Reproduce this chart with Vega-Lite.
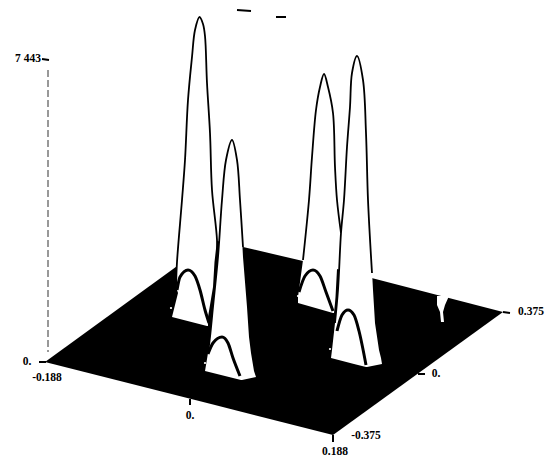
{
"$schema":"https://vega.github.io/schema/vega-lite/v6.json",
"width":546,"height":465,"padding":0,
"autosize":{"type":"fit","contains":"padding"},
"background":"white",
"config":{"view":{"stroke":null}},
"datasets":{
"base":[{"x":45,"y":362,"y2":362},{"x":213,"y":240,"y2":404.6},{"x":333,"y":268,"y2":435},{"x":503,"y":312,"y2":312}],
"fills":[
{"p":"1","y":17,"l":199,"r":200},{"p":"1","y":21,"l":197,"r":203},{"p":"1","y":30,"l":195,"r":205},{"p":"1","y":57,"l":192,"r":206},{"p":"1","y":100,"l":188,"r":208},{"p":"1","y":160,"l":185,"r":211},{"p":"1","y":200,"l":182,"r":213},{"p":"1","y":240,"l":179,"r":217},{"p":"1","y":262,"l":177,"r":214.5},{"p":"1","y":287,"l":176,"r":213},{"p":"1","y":293,"l":178,"r":212},{"p":"1","y":317,"l":172,"r":208},{"p":"1","y":326,"l":207,"r":208},
{"p":"3","y":74,"l":323,"r":325},{"p":"3","y":78,"l":321.5,"r":326.5},{"p":"3","y":87,"l":320,"r":328},{"p":"3","y":110,"l":316,"r":333},{"p":"3","y":157,"l":312,"r":335},{"p":"3","y":200,"l":309,"r":337},{"p":"3","y":233,"l":306,"r":341},{"p":"3","y":260,"l":303,"r":337.5},{"p":"3","y":297,"l":298,"r":335.5},{"p":"3","y":303,"l":298,"r":335},{"p":"3","y":313,"l":333,"r":334},
{"p":"2","y":140,"l":231,"r":233},{"p":"2","y":144,"l":229,"r":235},{"p":"2","y":160,"l":226,"r":237},{"p":"2","y":200,"l":222,"r":240},{"p":"2","y":257,"l":218,"r":243},{"p":"2","y":307,"l":213,"r":247},{"p":"2","y":337,"l":210,"r":249},{"p":"2","y":353,"l":208,"r":251},{"p":"2","y":371,"l":205,"r":254},{"p":"2","y":377,"l":229,"r":256},{"p":"2","y":380,"l":241,"r":242},
{"p":"4","y":56,"l":356,"r":358},{"p":"4","y":60,"l":354.5,"r":359.5},{"p":"4","y":73,"l":352,"r":362},{"p":"4","y":107,"l":350,"r":365},{"p":"4","y":147,"l":347,"r":367},{"p":"4","y":200,"l":344,"r":368},{"p":"4","y":233,"l":341,"r":370},{"p":"4","y":290,"l":338,"r":373},{"p":"4","y":323,"l":335,"r":375},{"p":"4","y":350,"l":332,"r":379},{"p":"4","y":358,"l":331,"r":381},{"p":"4","y":364,"l":354,"r":382},{"p":"4","y":367,"l":366,"r":367},
{"p":"n","y":296,"l":437,"r":449},{"p":"n","y":305,"l":437,"r":445},{"p":"n","y":312,"l":440,"r":443},{"p":"n","y":322,"l":441,"r":444}
],
"lines":[
{"c":"p1","o":1,"x":176,"y":287},{"c":"p1","o":2,"x":177,"y":262},{"c":"p1","o":3,"x":182,"y":200},{"c":"p1","o":4,"x":185,"y":160},{"c":"p1","o":5,"x":188,"y":100},{"c":"p1","o":6,"x":192,"y":57},{"c":"p1","o":7,"x":195,"y":30},{"c":"p1","o":8,"x":199.5,"y":17},{"c":"p1","o":9,"x":203,"y":24},{"c":"p1","o":10,"x":205,"y":36},{"c":"p1","o":11,"x":207,"y":83},{"c":"p1","o":12,"x":210,"y":133},{"c":"p1","o":13,"x":212,"y":190},{"c":"p1","o":14,"x":217,"y":240},{"c":"p1","o":15,"x":217,"y":270},
{"c":"p1a","o":1,"x":177,"y":290},{"c":"p1a","o":2,"x":180,"y":277},{"c":"p1a","o":3,"x":188,"y":270},{"c":"p1a","o":4,"x":195,"y":276},{"c":"p1a","o":5,"x":200,"y":290},{"c":"p1a","o":6,"x":205,"y":310},{"c":"p1a","o":7,"x":209,"y":323},
{"c":"p3","o":1,"x":303,"y":260},{"c":"p3","o":2,"x":309,"y":200},{"c":"p3","o":3,"x":312,"y":157},{"c":"p3","o":4,"x":316,"y":110},{"c":"p3","o":5,"x":320,"y":87},{"c":"p3","o":6,"x":324,"y":74},{"c":"p3","o":7,"x":328,"y":87},{"c":"p3","o":8,"x":333,"y":113},{"c":"p3","o":9,"x":335,"y":167},{"c":"p3","o":10,"x":337,"y":200},{"c":"p3","o":11,"x":341,"y":233},
{"c":"p3a","o":1,"x":299,"y":292},{"c":"p3a","o":2,"x":305,"y":276},{"c":"p3a","o":3,"x":313,"y":270},{"c":"p3a","o":4,"x":320,"y":276},{"c":"p3a","o":5,"x":326,"y":292},{"c":"p3a","o":6,"x":333,"y":311},
{"c":"p2","o":1,"x":208,"y":353},{"c":"p2","o":2,"x":210,"y":337},{"c":"p2","o":3,"x":213,"y":307},{"c":"p2","o":4,"x":218,"y":257},{"c":"p2","o":5,"x":222,"y":200},{"c":"p2","o":6,"x":226,"y":160},{"c":"p2","o":7,"x":232,"y":140},{"c":"p2","o":8,"x":237,"y":160},{"c":"p2","o":9,"x":240,"y":200},{"c":"p2","o":10,"x":243,"y":247},
{"c":"p2a","o":1,"x":208,"y":354},{"c":"p2a","o":2,"x":213,"y":343},{"c":"p2a","o":3,"x":222,"y":337},{"c":"p2a","o":4,"x":228,"y":343},{"c":"p2a","o":5,"x":233,"y":358},{"c":"p2a","o":6,"x":240,"y":376},
{"c":"p4","o":1,"x":335,"y":323},{"c":"p4","o":2,"x":338,"y":290},{"c":"p4","o":3,"x":341,"y":233},{"c":"p4","o":4,"x":344,"y":200},{"c":"p4","o":5,"x":347,"y":147},{"c":"p4","o":6,"x":350,"y":107},{"c":"p4","o":7,"x":352,"y":73},{"c":"p4","o":8,"x":357,"y":56},{"c":"p4","o":9,"x":363,"y":80},{"c":"p4","o":10,"x":366,"y":133},{"c":"p4","o":11,"x":368,"y":200},{"c":"p4","o":12,"x":372,"y":273},
{"c":"p4a","o":1,"x":337,"y":331},{"c":"p4a","o":2,"x":342,"y":315},{"c":"p4a","o":3,"x":348,"y":310},{"c":"p4a","o":4,"x":354,"y":315},{"c":"p4a","o":5,"x":359,"y":331},{"c":"p4a","o":6,"x":366,"y":365}
],
"thin":[
{"c":"t0","o":1,"x":42,"y":59},{"c":"t0","o":2,"x":49,"y":60},{"c":"t1","o":1,"x":39,"y":362},{"c":"t1","o":2,"x":46,"y":362},{"c":"t2","o":1,"x":190,"y":399},{"c":"t2","o":2,"x":190,"y":405},{"c":"t3","o":1,"x":418,"y":374},{"c":"t3","o":2,"x":425,"y":374},{"c":"t4","o":1,"x":503,"y":312},{"c":"t4","o":2,"x":510,"y":313},{"c":"t5","o":1,"x":333,"y":435},{"c":"t5","o":2,"x":333,"y":442},
{"c":"b1","o":1,"x":237,"y":10},{"c":"b1","o":2,"x":251,"y":11},{"c":"b2","o":1,"x":276,"y":17},{"c":"b2","o":2,"x":286,"y":17}
],
"zaxis":[{"x":48,"y":70},{"x":48,"y":352}],
"specks":[{"x":171,"y":308},{"x":205,"y":363},{"x":330,"y":349},{"x":298,"y":296},{"x":370,"y":363}],
"labels":[
{"x":28,"y":59,"t":"7 443"},{"x":27,"y":362,"t":"0."},{"x":47,"y":378,"t":"-0.188"},{"x":190,"y":416,"t":"0."},{"x":436,"y":374,"t":"0."},{"x":531,"y":312,"t":"0.375"},{"x":366,"y":436,"t":"-0.375"},{"x":335,"y":452,"t":"0.188"}
]
},
"layer":[
{"data":{"name":"base"},"mark":{"type":"area","color":"black","orient":"vertical"},"encoding":{"x":{"field":"x","type":"quantitative","scale":{"domain":[0,546],"nice":false,"zero":false},"axis":null},"y":{"field":"y","type":"quantitative","scale":{"domain":[465,0],"nice":false,"zero":false},"axis":null},"y2":{"field":"y2"}}},
{"data":{"name":"fills"},"mark":{"type":"area","fill":"white","opacity":1,"orient":"horizontal"},"transform":[{"filter":"datum.p=='n'||datum.p=='1'"}],"encoding":{"y":{"field":"y","type":"quantitative","scale":{"domain":[465,0],"nice":false,"zero":false},"axis":null},"x":{"field":"l","type":"quantitative","stack":false,"scale":{"domain":[0,546],"nice":false,"zero":false},"axis":null},"x2":{"field":"r"},"detail":{"field":"p"}}},
{"data":{"name":"fills"},"mark":{"type":"area","fill":"white","opacity":1,"orient":"horizontal"},"transform":[{"filter":"datum.p=='3'"}],"encoding":{"y":{"field":"y","type":"quantitative","scale":{"domain":[465,0],"nice":false,"zero":false},"axis":null},"x":{"field":"l","type":"quantitative","stack":false,"scale":{"domain":[0,546],"nice":false,"zero":false},"axis":null},"x2":{"field":"r"}}},
{"data":{"name":"lines"},"mark":{"type":"line","color":"black","strokeWidth":1.8,"interpolate":"catmull-rom"},"transform":[{"filter":"datum.c=='p1'||datum.c=='p3'"}],"encoding":{"x":{"field":"x","type":"quantitative","scale":{"domain":[0,546],"nice":false,"zero":false},"axis":null},"y":{"field":"y","type":"quantitative","scale":{"domain":[465,0],"nice":false,"zero":false},"axis":null},"detail":{"field":"c"},"order":{"field":"o","type":"quantitative"}}},
{"data":{"name":"lines"},"mark":{"type":"line","color":"black","strokeWidth":3,"interpolate":"monotone"},"transform":[{"filter":"datum.c=='p1a'||datum.c=='p3a'"}],"encoding":{"x":{"field":"x","type":"quantitative","scale":{"domain":[0,546],"nice":false,"zero":false},"axis":null},"y":{"field":"y","type":"quantitative","scale":{"domain":[465,0],"nice":false,"zero":false},"axis":null},"detail":{"field":"c"},"order":{"field":"o","type":"quantitative"}}},
{"data":{"name":"fills"},"mark":{"type":"area","fill":"white","opacity":1,"orient":"horizontal"},"transform":[{"filter":"datum.p=='2'||datum.p=='4'"}],"encoding":{"y":{"field":"y","type":"quantitative","scale":{"domain":[465,0],"nice":false,"zero":false},"axis":null},"x":{"field":"l","type":"quantitative","stack":false,"scale":{"domain":[0,546],"nice":false,"zero":false},"axis":null},"x2":{"field":"r"},"detail":{"field":"p"}}},
{"data":{"name":"lines"},"mark":{"type":"line","color":"black","strokeWidth":1.8,"interpolate":"catmull-rom"},"transform":[{"filter":"datum.c=='p2'||datum.c=='p4'"}],"encoding":{"x":{"field":"x","type":"quantitative","scale":{"domain":[0,546],"nice":false,"zero":false},"axis":null},"y":{"field":"y","type":"quantitative","scale":{"domain":[465,0],"nice":false,"zero":false},"axis":null},"detail":{"field":"c"},"order":{"field":"o","type":"quantitative"}}},
{"data":{"name":"lines"},"mark":{"type":"line","color":"black","strokeWidth":3,"interpolate":"monotone"},"transform":[{"filter":"datum.c=='p2a'||datum.c=='p4a'"}],"encoding":{"x":{"field":"x","type":"quantitative","scale":{"domain":[0,546],"nice":false,"zero":false},"axis":null},"y":{"field":"y","type":"quantitative","scale":{"domain":[465,0],"nice":false,"zero":false},"axis":null},"detail":{"field":"c"},"order":{"field":"o","type":"quantitative"}}},
{"data":{"name":"thin"},"mark":{"type":"line","color":"black","strokeWidth":2},"encoding":{"x":{"field":"x","type":"quantitative","scale":{"domain":[0,546],"nice":false,"zero":false},"axis":null},"y":{"field":"y","type":"quantitative","scale":{"domain":[465,0],"nice":false,"zero":false},"axis":null},"detail":{"field":"c"},"order":{"field":"o","type":"quantitative"}}},
{"data":{"name":"specks"},"mark":{"type":"point","filled":true,"color":"white","opacity":1,"size":5},"encoding":{"x":{"field":"x","type":"quantitative","scale":{"domain":[0,546],"nice":false,"zero":false},"axis":null},"y":{"field":"y","type":"quantitative","scale":{"domain":[465,0],"nice":false,"zero":false},"axis":null}}},
{"data":{"name":"zaxis"},"mark":{"type":"line","color":"#333","strokeWidth":1,"strokeDash":[7,3]},"encoding":{"x":{"field":"x","type":"quantitative","scale":{"domain":[0,546],"nice":false,"zero":false},"axis":null},"y":{"field":"y","type":"quantitative","scale":{"domain":[465,0],"nice":false,"zero":false},"axis":null}}},
{"data":{"name":"labels"},"mark":{"type":"text","font":"Liberation Serif","fontWeight":"bold","fontSize":11.5,"color":"black"},"encoding":{"x":{"field":"x","type":"quantitative","scale":{"domain":[0,546],"nice":false,"zero":false},"axis":null},"y":{"field":"y","type":"quantitative","scale":{"domain":[465,0],"nice":false,"zero":false},"axis":null},"text":{"field":"t"}}}
]
}
